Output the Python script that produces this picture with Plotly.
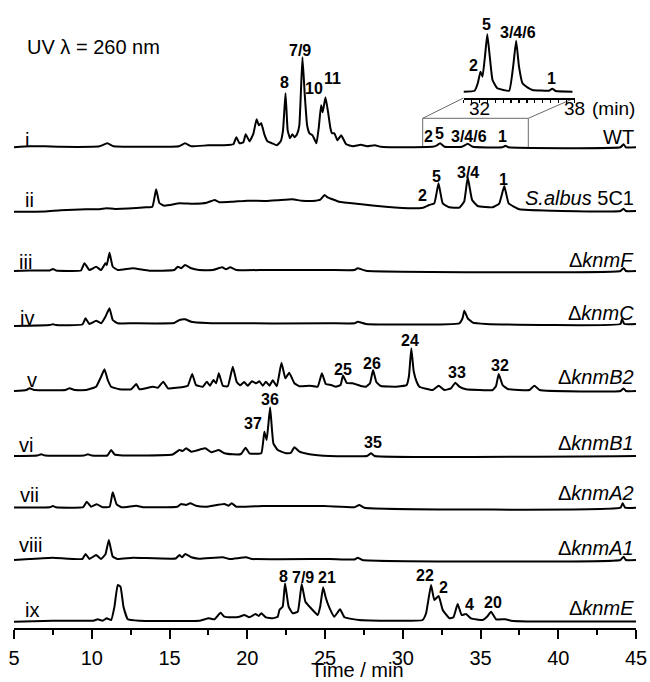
import plotly.graph_objects as go

# ------------------------------------------------------------------ data
x_tick_vals = [5, 10, 15, 20, 25, 30, 35, 40, 45]
inset_tick_vals = [31, 31.5, 32, 32.5, 33, 33.5, 34, 34.5, 35, 35.5, 36, 36.5, 37, 37.5, 38]
inset_tick_labels = {32: "32", 38: "38"}

roman = ["i", "ii", "iii", "iv", "v", "vi", "vii", "viii", "ix"]
strains = ["WT", "<i>S.albus</i> 5C1", "Δ<i>knmF</i>", "Δ<i>knmC</i>", "Δ<i>knmB2</i>",
           "Δ<i>knmB1</i>", "Δ<i>knmA2</i>", "Δ<i>knmA1</i>", "Δ<i>knmE</i>"]

# i  WT
t_i = [5.0, 6.0, 7.0, 8.0, 10.5, 11.0, 11.4, 13.0, 15.6, 16.0, 16.4, 17.5, 18.5, 19.1, 19.3, 19.5,
       19.75, 19.9, 20.15, 20.4, 20.6, 20.75, 20.9, 21.1, 21.3, 21.6, 21.9, 22.15, 22.3, 22.46,
       22.6, 22.75, 22.9, 23.05, 23.2, 23.35, 23.55, 23.7, 23.85, 24.0, 24.2, 24.45, 24.6, 24.75,
       24.85, 25.03, 25.2, 25.35, 25.45, 25.6, 25.8, 26.04, 26.36, 26.8, 27.3, 27.7, 28.2, 28.6,
       29.5, 31.9, 32.2, 32.4, 32.7, 33.8, 34.18, 34.5, 36.4, 36.6, 36.8, 44.0, 44.2, 44.35, 45.0]
a_i = [0, 1, 1, 0.5, 1, 4, 1, 0.5, 1, 4, 1, 2, 2, 3, 10, 4,
       5, 13, 6, 14, 28, 22, 24, 13, 6, 4, 2, 6, 17, 54,
       17, 9, 13, 10, 13, 22, 90, 52, 22, 14, 12, 4, 20, 42,
       35, 50, 35, 19, 14, 14, 7, 12, 3, 1, 2.5, 1, 2, 0.5,
       0, 0.5, 2, 4, 0.5, 0.5, 3.5, 0.5, 0, 1.5, 0, 0, 3, 0, 0]

# ii  S. albus 5C1
t_ii = [5.0, 7.0, 8.0, 9.64, 10.5, 10.93, 11.5, 13.5, 13.9, 14.14, 14.35, 14.68, 15.64, 16.5,
        17.4, 17.9, 18.2, 19.05, 20.0, 21.2, 22.0, 22.9, 23.5, 24.2, 24.7, 24.97, 25.17, 25.9,
        27.2, 28.9, 30.64, 31.3, 31.7, 32.03, 32.3, 32.57, 33.0, 33.64, 33.95, 34.18, 34.46,
        34.82, 35.78, 36.2, 36.53, 36.81, 37.5, 39.64, 44.0, 44.2, 44.35, 45.0]
a_ii = [0, 0.3, 1.5, 2.4, 2.5, 3.4, 2.8, 4.4, 5, 22.4, 8.7, 6, 8.4, 8,
        9, 11.7, 9.5, 10, 11, 10.7, 11.5, 12.4, 11, 10.7, 12, 16.7, 14.4, 10,
        7.7, 5, 3.4, 4, 6.7, 8.4, 28.4, 8.4, 4.4, 4, 10, 34.4, 11.7,
        5.7, 4.4, 8, 25.7, 8.4, 2.4, 1, 0.7, 3, 0.7, 0.7]

# iii  knmF
t_iii = [5.0, 6.0, 7.3, 7.5, 7.7, 9.3, 9.53, 9.85, 10.28, 10.6, 10.88, 10.97, 11.14, 11.35, 11.67,
         12.64, 13.7, 15.3, 15.53, 15.75, 16.0, 16.4, 16.9, 17.8, 18.39, 18.64, 18.9, 19.3, 21.2,
         25.3, 26.9, 27.1, 27.64, 44.0, 44.2, 44.35, 45.0]
a_iii = [0, 0.5, 0.5, 2, 0.5, 0.5, 7.7, 1, 4.3, 1, 7.7, 6, 18.3, 4.3, 1,
         2.7, 0.3, 1, 4.3, 2.7, 6, 2.7, 1, 1, 3.7, 1.7, 3.7, 1, 1,
         1, 1, 2.7, 0.3, 0, 3, 0, 0]

# iv  knmC
t_iv = [5.0, 7.3, 7.5, 7.7, 9.4, 9.6, 9.85, 10.28, 10.6, 10.88, 11.14, 11.35, 11.67, 12.64, 15.3,
        15.64, 16.0, 16.4, 18.0, 25.3, 26.9, 27.1, 27.64, 33.64, 33.85, 33.96, 34.18, 34.5, 35.36,
        44.0, 44.1, 44.25, 45.0]
a_iv = [0, 1, 1.7, 1, 1.5, 7.7, 2, 5.3, 2.7, 9.3, 17.7, 6, 2.7, 2.7, 3,
        6, 6.7, 4.3, 2.7, 2.7, 2.7, 4.3, 2, 2.7, 8, 15.3, 7.7, 3.3, 2,
        2, 6.7, 2, 2]

# v  knmB2
t_v = [5.0, 5.8, 6.0, 6.3, 8.3, 8.57, 8.9, 9.64, 10.28, 10.6, 10.82, 11.03, 11.25, 11.78, 12.53,
       12.86, 13.07, 13.93, 14.25, 14.6, 14.9, 15.96, 16.18, 16.46, 16.7, 17.14, 17.4, 17.6, 17.83,
       18.0, 18.17, 18.43, 18.75, 19.07, 19.32, 19.54, 19.8, 20.03, 20.3, 20.57, 20.78, 21.0, 21.2,
       21.43, 21.64, 21.9, 22.2, 22.45, 22.7, 23.03, 23.36, 24.0, 24.53, 24.8, 25.05, 25.4, 25.7,
       26.0, 26.16, 26.4, 26.78, 27.3, 27.64, 27.9, 28.09, 28.3, 28.6, 29.57, 30.25, 30.4, 30.55,
       30.7, 30.9, 31.07, 31.93, 32.31, 32.68, 33.1, 33.38, 33.64, 34.07, 35.78, 36.0, 36.17, 36.42,
       36.75, 38.15, 38.47, 38.8, 44.0, 44.2, 44.35, 45.0]
a_v = [0, 1, 2.7, 1, 1, 2.7, 1, 1, 4.3, 14.3, 21.7, 11, 4.3, 1.7, 1.7,
       7, 1.7, 4.3, 3.3, 9.3, 2.7, 4.3, 5.3, 17, 6, 4.3, 9.3, 5.3, 11,
       7.7, 17.7, 5.3, 4.7, 24.3, 9, 5.7, 9, 5.3, 9.7, 7.7, 9.7, 5.3, 9.3,
       5.3, 10.7, 4.7, 28.3, 12.7, 18.3, 7.7, 4.7, 5.3, 4.3, 17.7, 7, 6, 4.3,
       6, 15.5, 8, 7.7, 5, 4.3, 8, 21, 9, 5, 4.3, 6, 15, 42.7,
       20, 9, 4.3, 1, 5.3, 1, 2.7, 8.3, 4.3, 1.7, 1, 5, 17, 6,
       2, 1, 5.3, 1, 0, 2.5, 0, 0]

# vi  knmB1
t_vi = [5.0, 6.5, 6.75, 7.0, 9.5, 9.75, 10.0, 11.0, 11.25, 11.46, 12.0, 15.2, 15.64, 15.85, 16.07,
        16.4, 16.7, 17.3, 17.68, 18.17, 18.53, 19.07, 19.6, 19.89, 20.14, 20.9, 21.1, 21.25, 21.47,
        21.68, 21.96, 22.5, 22.8, 23.03, 23.36, 24.0, 25.3, 27.7, 27.96, 28.2, 45.0]
a_vi = [0, 0.5, 1.7, 0.5, 0.5, 1.7, 0.5, 0.5, 6, 1.7, 0.5, 1.5, 6, 5, 7.7,
        4.3, 5.3, 7.7, 3.7, 6, 2.7, 1.7, 2, 8.3, 2.7, 2.7, 24.3, 16, 48.7,
        12.7, 6, 2.7, 3, 8.7, 4.3, 1.7, 0, 0, 2.7, 0, 0]

# vii  knmA2
t_vii = [5.0, 7.3, 7.5, 7.7, 9.45, 9.68, 9.96, 10.32, 10.7, 11.15, 11.35, 11.6, 11.9, 12.86, 13.3,
         15.5, 15.75, 16.07, 16.33, 16.7, 17.36, 18.53, 18.8, 19.0, 19.3, 21.0, 24.96, 26.9, 27.2,
         27.53, 44.0, 44.14, 44.3, 45.0]
a_vii = [0.3, 0.5, 1.7, 0.5, 0.5, 6, 1, 3.4, 0.4, 1, 15.4, 3.4, 0.4, 2, 0.5,
         1, 3.7, 2.7, 4.4, 2, 1, 3.7, 2, 4.4, 1, 1.7, 1.7, 0.5, 2.7,
         0, 0, 4.4, 0, 0]

# viii  knmA1
t_viii = [5.0, 6.0, 7.5, 9.4, 9.6, 9.85, 10.28, 10.6, 10.88, 11.1, 11.35, 11.67, 12.64, 15.4, 15.64,
          15.8, 16.02, 16.4, 16.9, 18.43, 18.86, 19.93, 20.3, 25.3, 26.9, 27.1, 27.4, 44.0, 44.2,
          44.35, 45.0]
a_viii = [0, 1, 2.3, 1, 6, 1, 5, 1, 5.7, 20, 3.3, 1, 2.3, 1.5, 5,
          2.7, 6, 2.7, 1.3, 2.7, 1, 2.7, 1, 1, 0.5, 2.3, 0, 0, 3.3,
          0, 0]

# ix  knmE
t_ix = [5.0, 7.5, 10.1, 10.39, 10.7, 10.97, 11.25, 11.46, 11.67, 11.85, 12.04, 12.32, 13.07, 16.9,
        17.52, 17.89, 18.28, 18.53, 19.07, 19.5, 19.82, 20.14, 20.53, 20.74, 20.9, 21.2, 21.64,
        21.96, 22.07, 22.28, 22.43, 22.66, 22.92, 23.25, 23.5, 23.74, 24.1, 24.53, 24.69, 24.88,
        25.05, 25.3, 25.6, 25.97, 26.25, 27.2, 31.28, 31.5, 31.82, 32.03, 32.31, 32.57, 33.0, 33.26,
        33.53, 33.79, 34.07, 34.39, 35.14, 35.42, 35.68, 36.0, 36.6, 36.97, 38.0, 45.0]
a_ix = [0, 1, 1, 2.4, 1, 3.4, 1.7, 15, 36.7, 35, 15, 2.4, 1, 1,
        3.4, 2.4, 9, 5, 4.4, 5, 6.7, 4.4, 7.7, 5.7, 8.4, 4.4, 3.4,
        5, 11.7, 15, 38.4, 15, 8.4, 10, 37.7, 20, 13.4, 6.7, 15, 34.4,
        24, 13.4, 5, 12.4, 4.4, 1.7, 1.7, 8.4, 36.7, 21.7, 25.7, 11.7, 3.4, 4.4,
        17.7, 6.7, 7.7, 3.4, 1.7, 5, 10, 2.4, 2.4, 1, 0.3, 0.3]

# inset: WT, 31-38 min, magnified
t_inset = [31.0, 31.7, 31.9, 32.07, 32.2, 32.35, 32.5, 32.66, 32.83, 33.14, 33.88, 34.13, 34.32,
           34.5, 34.72, 35.03, 35.35, 36.4, 36.6, 36.82, 37.87]
a_inset = [0.3, 1.3, 8.7, 20.3, 15.3, 35, 57.7, 35, 12, 3.7, 1.3, 25.3, 51.3,
           25.3, 8.7, 4.7, 2, 1.3, 3.3, 1, 0.3]

series_t = [t_i, t_ii, t_iii, t_iv, t_v, t_vi, t_vii, t_viii, t_ix]
series_a = [a_i, a_ii, a_iii, a_iv, a_v, a_vi, a_vii, a_viii, a_ix]

# peak labels: (text, retention time)
peak_labels = [
    [("8", 22.39), ("7/9", 23.42), ("10", 24.3), ("11", 25.45),
     ("2", 31.65), ("5", 32.35), ("3/4/6", 34.28), ("1", 36.4)],
    [("2", 31.28), ("5", 32.14), ("3/4", 34.17), ("1", 36.47)],
    [], [],
    [("25", 26.14), ("26", 28.03), ("24", 30.47), ("33", 33.47), ("32", 36.28)],
    [("37", 20.35), ("36", 21.47), ("35", 28.07)],
    [], [],
    [("8", 22.33), ("7/9", 23.57), ("21", 25.11), ("22", 31.44), ("2", 32.61), ("4", 34.28), ("20", 35.78)],
]
inset_peak_labels = [("2", 31.66), ("5", 32.48), ("3/4/6", 34.44), ("1", 36.58)]

# ------------------------------------------------------------------ layout geometry (pixels)
W, H = 650, 682
ML, MR, MT, MB = 14, 14, 10, 54
PW, PH = W - ML - MR, H - MT - MB
AX_Y = H - MB  # pixel row of the x axis


def fy(p):  # pixel row -> paper y
    return (AX_Y - p) / PH


def fx(p):  # pixel column -> paper x
    return (p - ML) / PW


baseline_px = [147.3, 211.7, 271, 326, 391, 456, 507.7, 560, 621.7]
offsets = [AX_Y - b for b in baseline_px]
roman_pos = [(23, 140), (23, 200), (17, 262), (18, 318), (25, 380), (17, 445), (18, 495), (17, 545), (23, 610)]
strain_y = [137, 198, 260, 313, 377, 443, 493, 548, 608]
peak_label_y = [
    [83, 50, 89, 78, 137, 133, 137, 137],
    [195, 177, 172, 180],
    [], [],
    [369, 363, 340, 372, 365],
    [423, 400, 442],
    [], [],
    [576, 577, 577, 575, 587, 604, 602],
]
inset_label_y = [65, 25, 32, 79]

FONT = "Liberation Sans, Arial, sans-serif"
fig = go.Figure()

for k in range(9):
    fig.add_trace(go.Scatter(
        x=series_t[k], y=[v + offsets[k] for v in series_a[k]],
        mode="lines", line=dict(color="black", width=2, shape="spline", smoothing=0.35),
        hoverinfo="skip", showlegend=False,
    ))

fig.add_trace(go.Scatter(
    x=t_inset, y=a_inset, xaxis="x2", yaxis="y2", mode="lines",
    line=dict(color="black", width=2, shape="spline", smoothing=0.35),
    hoverinfo="skip", showlegend=False,
))

# inset axes geometry
inset_left_px, inset_right_px, inset_axis_px, inset_top_px = 463.5, 574.5, 98, 20
inset_base_px = 92

fig.update_layout(
    template="none",
    width=W, height=H,
    margin=dict(l=ML, r=MR, t=MT, b=MB, pad=0, autoexpand=False),
    paper_bgcolor="white", plot_bgcolor="white",
    showlegend=False,
    xaxis=dict(
        range=[5, 45], showgrid=False, zeroline=False, automargin=False,
        showline=True, linecolor="black", linewidth=2,
        ticks="outside", ticklen=9, tickwidth=2, tickcolor="black",
        tickvals=x_tick_vals, tickfont=dict(family=FONT, size=20, color="black"),
        ticklabelstandoff=2,
        minor=dict(dtick=2.5, tick0=5, ticks="outside", ticklen=5, tickwidth=2, tickcolor="black"),
        fixedrange=True,
    ),
    yaxis=dict(range=[0, PH], visible=False, fixedrange=True, automargin=False),
    xaxis2=dict(
        domain=[fx(inset_left_px), fx(inset_right_px)], anchor="y2",
        range=[31, 38], showgrid=False, zeroline=False, automargin=False,
        showline=True, linecolor="black", linewidth=1.5,
        ticks="outside", ticklen=3, tickwidth=1.2, tickcolor="black",
        tickvals=inset_tick_vals, showticklabels=False, fixedrange=True,
    ),
    yaxis2=dict(
        domain=[fy(inset_axis_px), fy(inset_top_px)], anchor="x2",
        range=[inset_base_px - inset_axis_px, inset_base_px - inset_top_px],
        visible=False, fixedrange=True, automargin=False,
    ),
)

ann = []
# roman numerals and strain names
for k in range(9):
    ann.append(dict(text=roman[k], x=fx(roman_pos[k][0]), y=fy(roman_pos[k][1]), xref="paper", yref="paper",
                    xanchor="left", yanchor="middle", showarrow=False,
                    font=dict(family=FONT, size=20, color="black")))
    ann.append(dict(text=strains[k], x=1.0, y=fy(strain_y[k]), xref="paper", yref="paper",
                    xanchor="right", yanchor="middle", showarrow=False,
                    font=dict(family=FONT, size=20, color="black")))
    for (txt, tm), py in zip(peak_labels[k], peak_label_y[k]):
        ann.append(dict(text="<b>" + txt + "</b>", x=tm, y=fy(py), xref="x", yref="paper",
                        xanchor="center", yanchor="middle", showarrow=False,
                        font=dict(family=FONT, size=16, color="black")))

for (txt, tm), py in zip(inset_peak_labels, inset_label_y):
    ann.append(dict(text="<b>" + txt + "</b>", x=tm, y=fy(py), xref="x2", yref="paper",
                    xanchor="center", yanchor="middle", showarrow=False,
                    font=dict(family=FONT, size=16, color="black")))

# inset tick labels
for tv, tl in inset_tick_labels.items():
    ann.append(dict(text=tl, x=tv, y=fy(108), xref="x2", yref="paper",
                    xanchor="center", yanchor="middle", showarrow=False,
                    font=dict(family=FONT, size=19, color="black")))
ann.append(dict(text="(min)", x=fx(590), y=fy(108), xref="paper", yref="paper",
                xanchor="left", yanchor="middle", showarrow=False,
                font=dict(family=FONT, size=19, color="black")))

ann.append(dict(text="UV λ = 260 nm", x=fx(25), y=fy(47), xref="paper", yref="paper",
                xanchor="left", yanchor="middle", showarrow=False,
                font=dict(family=FONT, size=20, color="black")))
ann.append(dict(text="Time / min", x=27.1, y=fy(681.5), xref="x", yref="paper",
                xanchor="center", yanchor="bottom", showarrow=False, borderpad=0,
                font=dict(family=FONT, size=20, color="black")))
fig.update_layout(annotations=ann)

# zoom box connecting WT trace region with inset (thin grey lines)
def minute(p):
    return 5 + (p - ML) / (PW / 40)

box_l, box_r = minute(422.7), minute(528.3)
box_top, box_bot = AX_Y - 118.3, AX_Y - 147
ins_l, ins_r, ins_y = minute(inset_left_px), minute(inset_right_px), AX_Y - inset_axis_px
grey = dict(color="#6a6a6a", width=1)
for (x0, y0, x1, y1) in [(box_l, box_bot, box_l, box_top), (box_l, box_top, box_r, box_top),
                         (box_r, box_top, box_r, box_bot), (box_l, box_top, ins_l, ins_y),
                         (box_r, box_top, ins_r, ins_y)]:
    fig.add_shape(type="line", x0=x0, y0=y0, x1=x1, y1=y1, xref="x", yref="y", line=grey, layer="below")

# page body has a default 8px margin; remove it so the figure sits at the window origin
fig.write_html("out.html", config={"displayModeBar": False, "staticPlot": True},
               post_script="document.body.style.margin='0px';document.body.style.overflow='hidden';")
